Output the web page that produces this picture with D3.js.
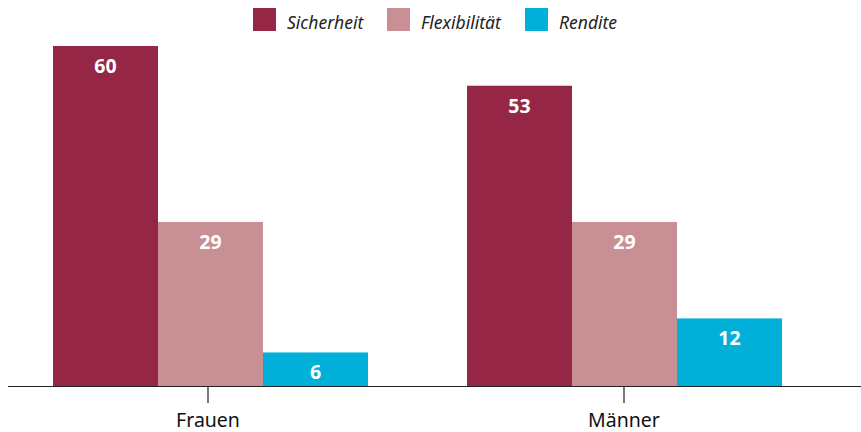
<!DOCTYPE html>
<html>
<head>
<meta charset="utf-8">
<script src="https://cdn.jsdelivr.net/npm/d3@7"></script>
<style>
  body { margin: 0; background: #fff; }
  svg { display: block; font-family: "Noto Sans", "Open Sans", sans-serif; }
</style>
</head>
<body>
<div id="chart"></div>
<script>
const groups = ["Frauen", "Männer"];
const keys = ["Sicherheit", "Flexibilität", "Rendite"];
const colors = ["#952646", "#c89095", "#00b0d8"];
const sicherheit = [60, 53];
const flexibilitaet = [29, 29];
const rendite = [6, 12];

const series = [sicherheit, flexibilitaet, rendite];
const data = groups.map((g, i) => ({
  group: g,
  values: keys.map((k, j) => ({ key: k, value: series[j][i] }))
}));

const width = 861, height = 432;
const baseY = 386.5;

const svg = d3.select("#chart").append("svg")
  .attr("width", width)
  .attr("height", height);

const x0 = d3.scaleBand().domain(groups).range([3.5, 831.5]).paddingInner(0.24).paddingOuter(0.12);
const x1 = d3.scaleBand().domain(keys).range([0, 315]);
const y = d3.scaleLinear().domain([0, 60]).range([baseY, 46]);
const color = d3.scaleOrdinal(keys, colors);

// bars
const g = svg.selectAll(".grp")
  .data(data)
  .join("g")
  .attr("class", "grp")
  .attr("transform", d => "translate(" + (x0(d.group) + x0.bandwidth() / 2 - 157.5) + ",0)");

g.selectAll("rect")
  .data(d => d.values)
  .join("rect")
  .attr("x", d => x1(d.key))
  .attr("y", d => y(d.value))
  .attr("width", x1.bandwidth())
  .attr("height", d => baseY - y(d.value))
  .attr("fill", d => color(d.key));

g.selectAll(".val")
  .data(d => d.values)
  .join("text")
  .attr("class", "val")
  .attr("x", d => x1(d.key) + x1.bandwidth() / 2)
  .attr("y", d => y(d.value) + 27)
  .attr("text-anchor", "middle")
  .attr("fill", "#fff")
  .style("font-weight", "bold")
  .style("font-size", "19.5px")
  .text(d => d.value);

// axis
svg.append("line")
  .attr("x1", 8).attr("x2", width)
  .attr("y1", baseY).attr("y2", baseY)
  .attr("stroke", "#222").attr("stroke-width", 1.2);

svg.selectAll(".tick")
  .data(groups)
  .join("g")
  .attr("class", "tick")
  .attr("transform", (d, i) => "translate(" + (x0(d) + x0.bandwidth() / 2 - (i === 0 ? 2.5 : 0.5)) + ",0)")
  .call(s => {
    s.append("line").attr("y1", baseY).attr("y2", 403).attr("stroke", "#222").attr("stroke-width", 1.2);
    s.append("text").attr("y", 427).attr("text-anchor", "middle")
      .style("font-size", "19.5px").attr("fill", "#111").text(d => d);
  });

// legend
const legendX = [253, 387, 525];
const legend = svg.selectAll(".leg")
  .data(keys)
  .join("g")
  .attr("class", "leg")
  .attr("transform", (d, i) => "translate(" + legendX[i] + ",8)");
legend.append("rect").attr("width", 23).attr("height", 23).attr("fill", d => color(d));
legend.append("text")
  .attr("x", 34).attr("y", 21)
  .style("font-style", "italic")
  .style("font-size", "17.5px")
  .attr("fill", "#222")
  .text(d => d);
</script>
</body>
</html>
